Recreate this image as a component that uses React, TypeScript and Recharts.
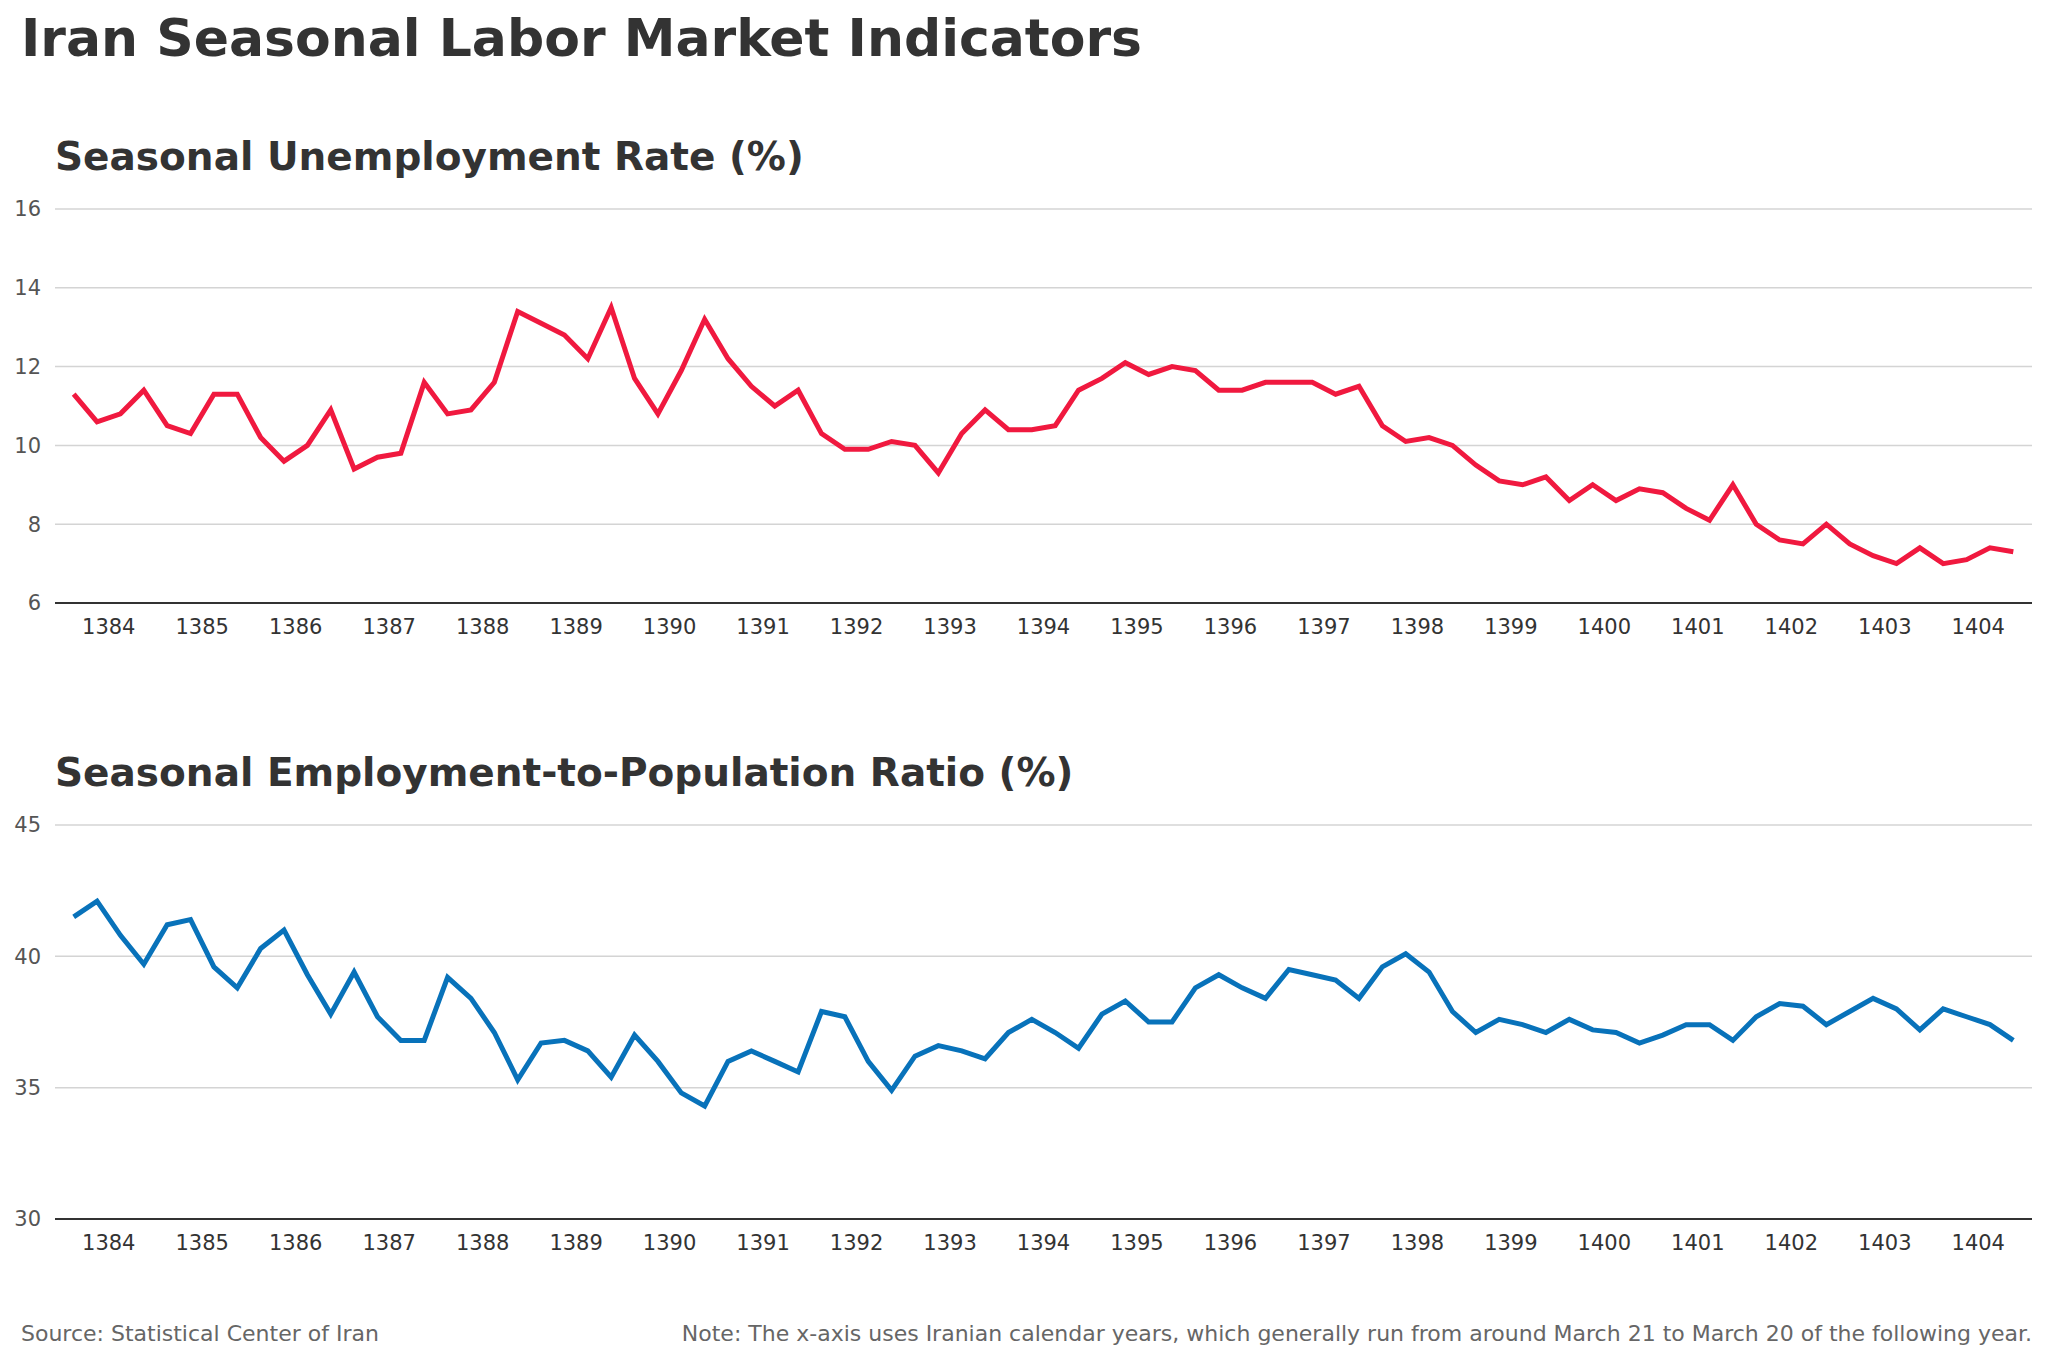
import { LineChart, Line, XAxis, YAxis, CartesianGrid } from "recharts";

const years = [1384, 1385, 1386, 1387, 1388, 1389, 1390, 1391, 1392, 1393, 1394, 1395, 1396, 1397, 1398, 1399, 1400, 1401, 1402, 1403, 1404];

const unemployment = [
  11.3, 10.6, 10.8, 11.4, 10.5, 10.3, 11.3, 11.3, 10.2, 9.6, 10.0, 10.9,
  9.4, 9.7, 9.8, 11.6, 10.8, 10.9, 11.6, 13.4, 13.1, 12.8, 12.2, 13.5,
  11.7, 10.8, 11.9, 13.2, 12.2, 11.5, 11.0, 11.4, 10.3, 9.9, 9.9, 10.1,
  10.0, 9.3, 10.3, 10.9, 10.4, 10.4, 10.5, 11.4, 11.7, 12.1, 11.8, 12.0,
  11.9, 11.4, 11.4, 11.6, 11.6, 11.6, 11.3, 11.5, 10.5, 10.1, 10.2, 10.0,
  9.5, 9.1, 9.0, 9.2, 8.6, 9.0, 8.6, 8.9, 8.8, 8.4, 8.1, 9.0,
  8.0, 7.6, 7.5, 8.0, 7.5, 7.2, 7.0, 7.4, 7.0, 7.1, 7.4, 7.3,
];

const employment = [
  41.5, 42.1, 40.8, 39.7, 41.2, 41.4, 39.6, 38.8, 40.3, 41.0, 39.3, 37.8,
  39.4, 37.7, 36.8, 36.8, 39.2, 38.4, 37.1, 35.3, 36.7, 36.8, 36.4, 35.4,
  37.0, 36.0, 34.8, 34.3, 36.0, 36.4, 36.0, 35.6, 37.9, 37.7, 36.0, 34.9,
  36.2, 36.6, 36.4, 36.1, 37.1, 37.6, 37.1, 36.5, 37.8, 38.3, 37.5, 37.5,
  38.8, 39.3, 38.8, 38.4, 39.5, 39.3, 39.1, 38.4, 39.6, 40.1, 39.4, 37.9,
  37.1, 37.6, 37.4, 37.1, 37.6, 37.2, 37.1, 36.7, 37.0, 37.4, 37.4, 36.8,
  37.7, 38.2, 38.1, 37.4, 37.9, 38.4, 38.0, 37.2, 38.0, 37.7, 37.4, 36.8,
];

const data = unemployment.map((u, i) => ({ q: i, u, e: employment[i] }));
const yearTicks = years.map((_, k) => 1.5 + 4 * k);
const font = "'DejaVu Sans', sans-serif";

function Panel({ top, dataKey, color, domain, ticks }: { top: number; dataKey: string; color: string; domain: [number, number]; ticks: number[] }) {
  return (
    <div style={{ position: "absolute", left: 0, top }}>
      <LineChart width={2048} height={470} data={data} margin={{ top: 29, right: 16, bottom: 7, left: 0 }}>
        <CartesianGrid vertical={false} stroke="#d4d4d4" strokeWidth={1.5} />
        <XAxis
          dataKey="q"
          type="number"
          domain={[-0.8, 83.8]}
          ticks={yearTicks}
          tickFormatter={(v: number) => String(years[Math.round((v - 1.5) / 4)])}
          height={40}
          tickLine={false}
          axisLine={{ stroke: "#333", strokeWidth: 2 }}
          tick={{ fill: "#333", fontSize: 21, fontFamily: font }}
          tickMargin={10}
        />
        <YAxis
          domain={domain}
          ticks={ticks}
          width={55}
          axisLine={false}
          tickLine={false}
          tick={{ fill: "#555", fontSize: 21, fontFamily: font }}
          tickMargin={8}
        />
        <Line dataKey={dataKey} stroke={color} strokeWidth={5} dot={false} isAnimationActive={false} />
      </LineChart>
    </div>
  );
}

export default function App() {
  return (
    <div style={{ position: "relative", width: 2048, height: 1364, margin: -8, background: "#fff", fontFamily: font, color: "#333" }}>
      <div style={{ position: "absolute", left: 21, top: 8, fontSize: 52, fontWeight: "bold" }}>Iran Seasonal Labor Market Indicators</div>
      <div style={{ position: "absolute", left: 55, top: 134, fontSize: 39, fontWeight: "bold" }}>Seasonal Unemployment Rate (%)</div>
      <div style={{ position: "absolute", left: 55, top: 750, fontSize: 39, fontWeight: "bold" }}>Seasonal Employment-to-Population Ratio (%)</div>
      <Panel top={180} dataKey="u" color="#f0193f" domain={[6, 16]} ticks={[6, 8, 10, 12, 14, 16]} />
      <Panel top={796} dataKey="e" color="#0872ba" domain={[30, 45]} ticks={[30, 35, 40, 45]} />
      <div style={{ position: "absolute", left: 21, top: 1321, fontSize: 22, color: "#666" }}>Source: Statistical Center of Iran</div>
      <div style={{ position: "absolute", right: 16, top: 1321, fontSize: 22, color: "#666" }}>
        Note: The x-axis uses Iranian calendar years, which generally run from around March 21 to March 20 of the following year.
      </div>
    </div>
  );
}
